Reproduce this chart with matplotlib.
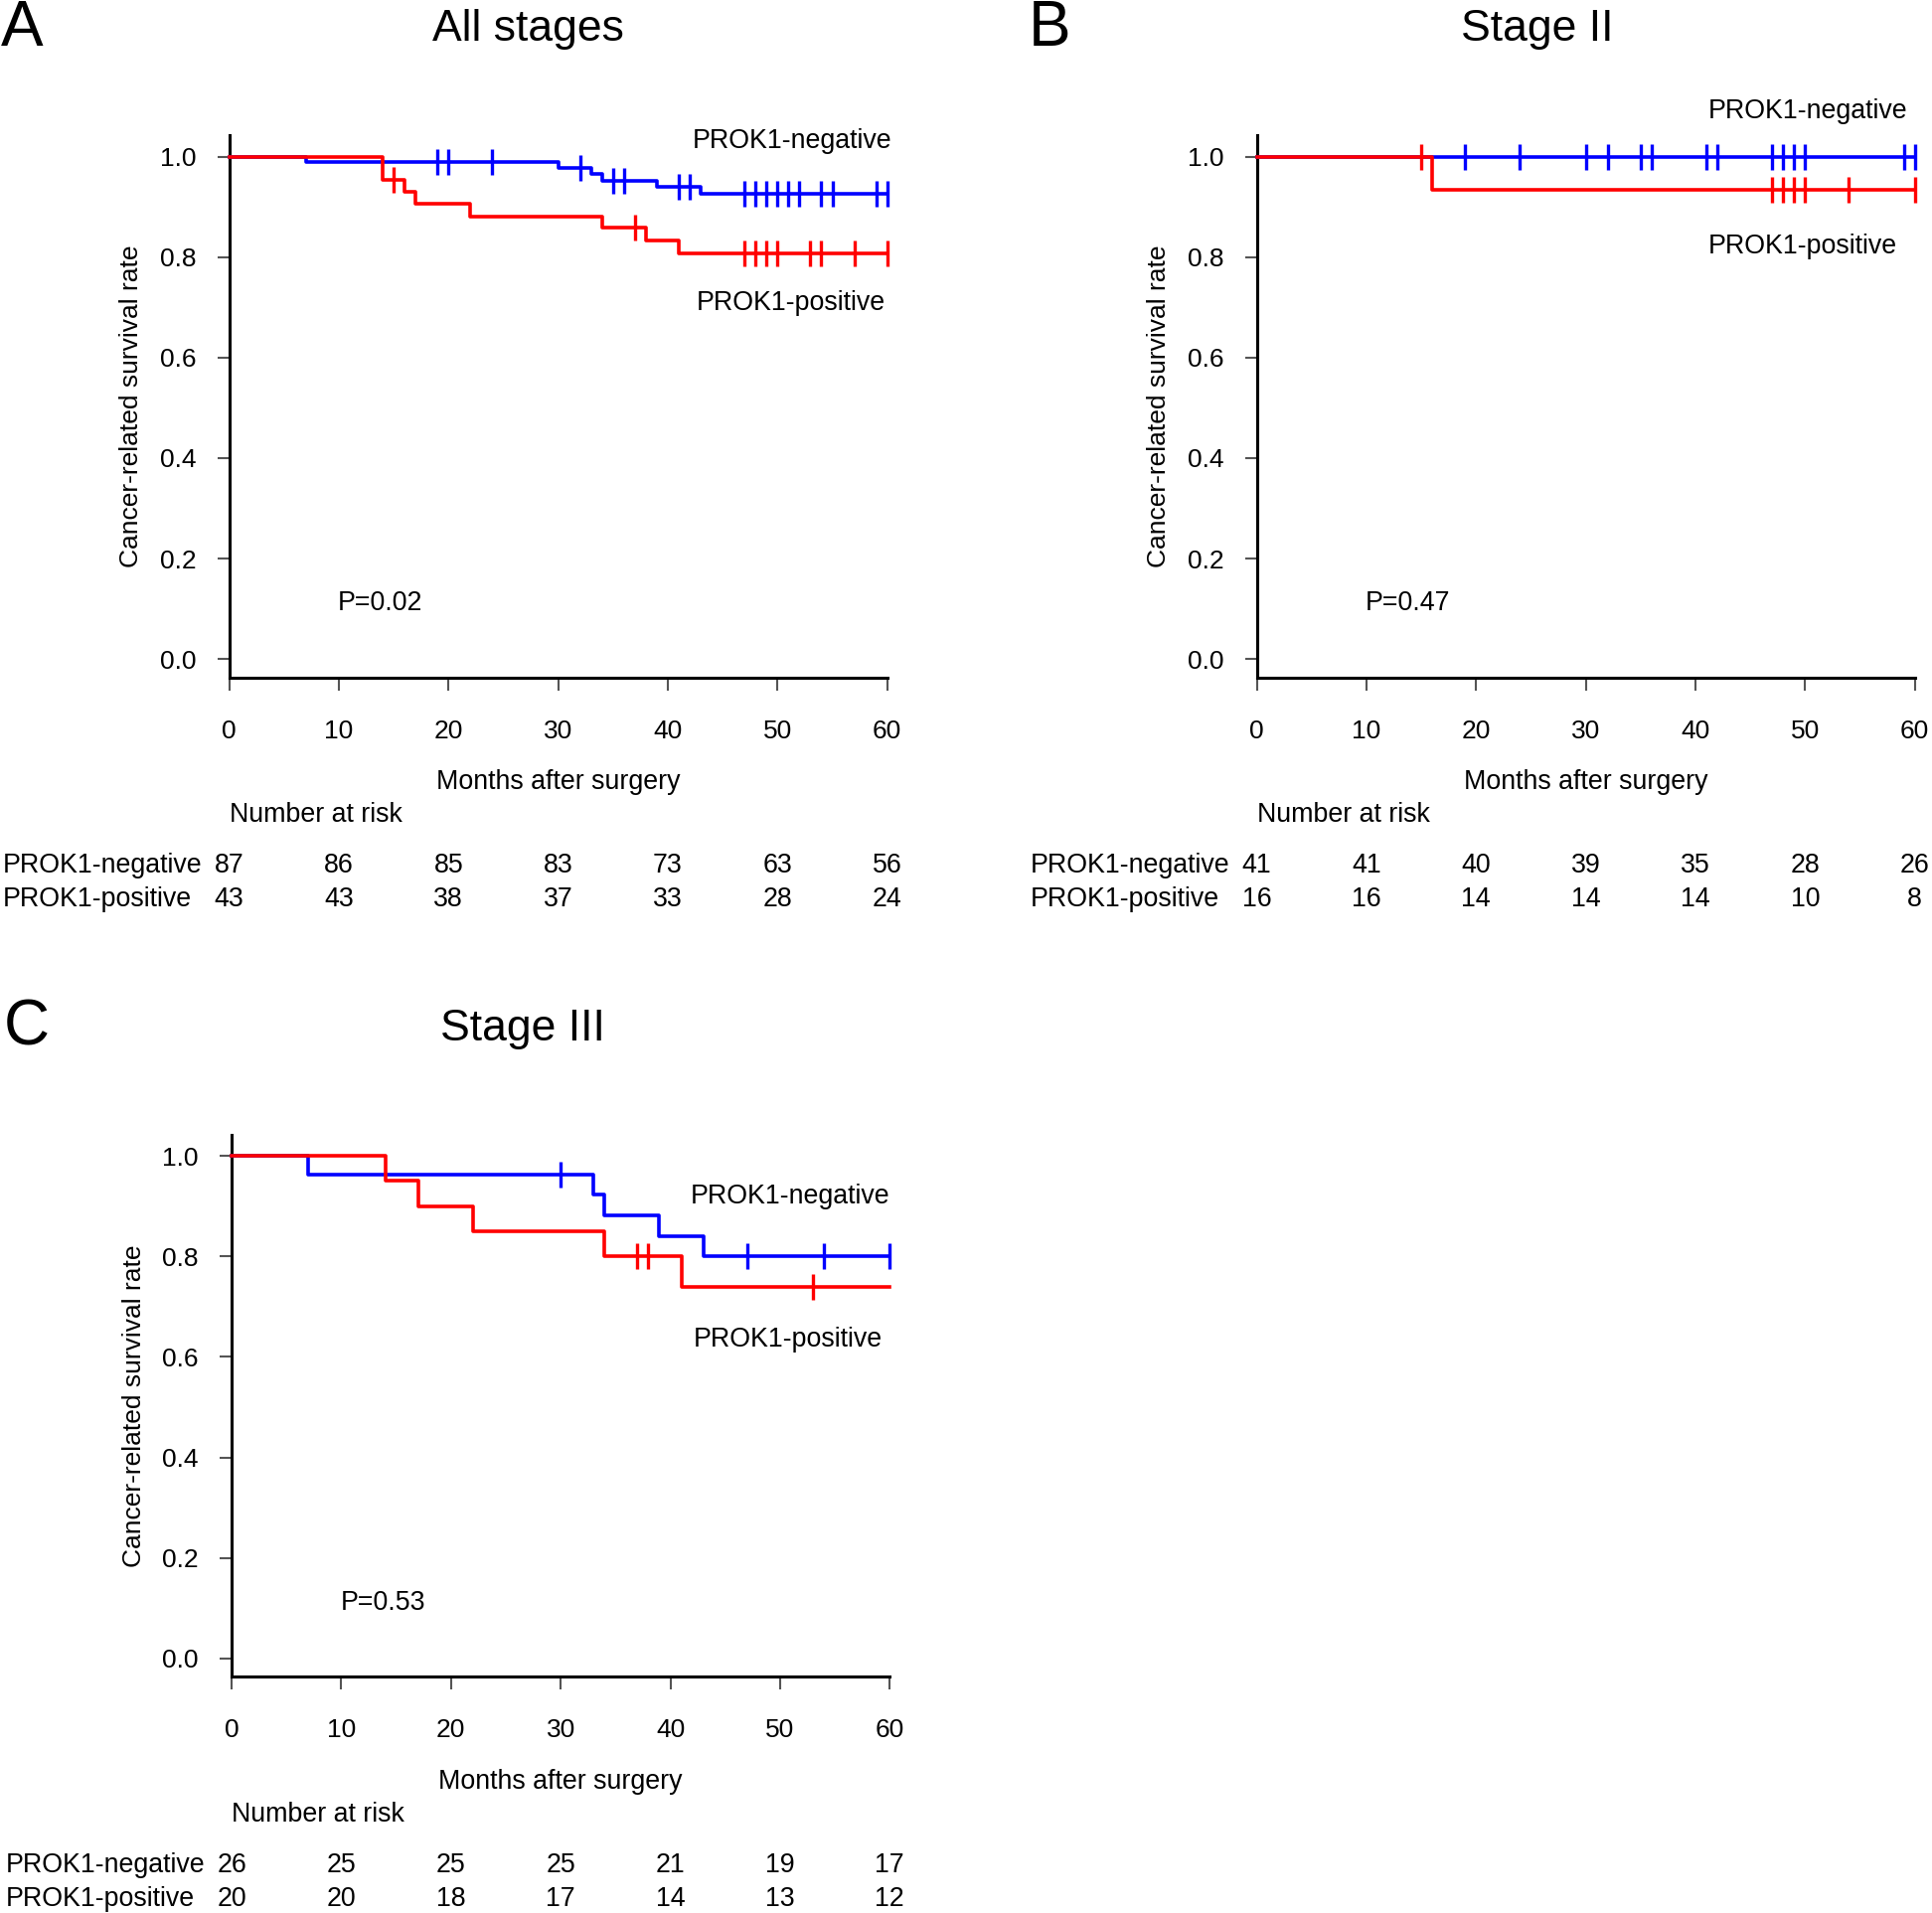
import numpy as np
import matplotlib
matplotlib.use("Agg")
import matplotlib.pyplot as plt

plt.rcParams['font.family'] = ['Liberation Sans', 'DejaVu Sans']

RED = '#ff0000'
BLUE = '#0000ff'

# ---- data ----
# Panel A: all stages
a_neg_t = [0, 7, 30, 33, 34, 39, 43, 60]
a_neg_s = [1.0, 0.989, 0.978, 0.966, 0.952, 0.939, 0.926, 0.926]
a_neg_cens = [19, 20, 24, 32, 35, 36, 41, 42, 47, 48, 49, 50, 51, 52, 54, 55, 59, 60]
a_pos_t = [0, 14, 16, 17, 22, 34, 38, 41, 60]
a_pos_s = [1.0, 0.953, 0.929, 0.906, 0.881, 0.858, 0.832, 0.808, 0.808]
a_pos_cens = [15, 37, 47, 48, 49, 50, 53, 54, 57, 60]
a_risk_neg = [87, 86, 85, 83, 73, 63, 56]
a_risk_pos = [43, 43, 38, 37, 33, 28, 24]

# Panel B: stage II
b_neg_t = [0, 60]
b_neg_s = [1.0, 1.0]
b_neg_cens = [19, 24, 30, 32, 35, 36, 41, 42, 47, 48, 49, 50, 59, 60]
b_pos_t = [0, 16, 60]
b_pos_s = [1.0, 0.933, 0.933]
b_pos_cens = [15, 47, 48, 49, 50, 54, 60]
b_risk_neg = [41, 41, 40, 39, 35, 28, 26]
b_risk_pos = [16, 16, 14, 14, 14, 10, 8]

# Panel C: stage III
c_neg_t = [0, 7, 33, 34, 39, 43, 60]
c_neg_s = [1.0, 0.962, 0.923, 0.882, 0.841, 0.80, 0.80]
c_neg_cens = [30, 47, 54, 60]
c_pos_t = [0, 14, 17, 22, 34, 41, 60]
c_pos_s = [1.0, 0.95, 0.90, 0.85, 0.80, 0.74, 0.74]
c_pos_cens = [37, 38, 53]
c_risk_neg = [26, 25, 25, 25, 21, 19, 17]
c_risk_pos = [20, 20, 18, 17, 14, 13, 12]

risk_ticks = [0, 10, 20, 30, 40, 50, 60]


def surv_at(times, surv, t):
    idx = np.searchsorted(times, t, side='right') - 1
    return np.asarray(surv)[idx]


def km_panel(ax, letter, title, title_x, neg, pos, pval, neg_lab, pos_lab,
             risk_neg, risk_pos):
    # negative first, positive on top (as in the original)
    for (t, s, cens), col in ((neg, BLUE), (pos, RED)):
        ax.step(t, s, where='post', color=col, lw=2.6, clip_on=False, zorder=3)
        ax.plot(cens, surv_at(t, s, cens), ls='none', marker='|', ms=19,
                mew=2.4, color=col, clip_on=False, zorder=4)

    ax.set_xlim(0, 60)
    ax.set_ylim(-0.037, 1.042)
    ax.set_xticks(risk_ticks)
    ax.set_yticks([0.0, 0.2, 0.4, 0.6, 0.8, 1.0])
    ax.set_yticklabels(['0.0', '0.2', '0.4', '0.6', '0.8', '1.0'])
    for side in ('top', 'right'):
        ax.spines[side].set_visible(False)
    for side in ('left', 'bottom'):
        ax.spines[side].set_linewidth(2.2)
    ax.tick_params(axis='both', labelsize=19, length=9, width=1.5, color='#555555')
    ax.tick_params(axis='x', pad=21)
    ax.tick_params(axis='y', pad=15)
    ax.set_ylabel('Cancer-related survival rate', fontsize=19)
    ax.yaxis.set_label_coords(-0.13, 0.5)

    dy = -0.007
    kw = dict(fontsize=19.3, clip_on=False)
    ax.text(neg_lab[0], neg_lab[1] + dy, 'PROK1-negative', ha='right', va='center', **kw)
    ax.text(pos_lab[0], pos_lab[1] + dy, 'PROK1-positive', ha='right', va='center', **kw)
    ax.text(9.9, 0.118 + dy, pval, ha='left', va='center', **kw)
    ax.text(title_x, 1.253, title, ha='center', va='center', fontsize=32)
    ax.text(-20.8, 1.255, letter, ha='left', va='center', fontsize=46)

    ax.text(30, -0.238 + dy, 'Months after surgery', ha='center', va='center', **kw)
    ax.text(0, -0.304 + dy, 'Number at risk', ha='left', va='center', **kw)
    ax.text(-20.6, -0.404 + dy, 'PROK1-negative', ha='left', va='center', **kw)
    ax.text(-20.6, -0.472 + dy, 'PROK1-positive', ha='left', va='center', **kw)
    for x, n1, n2 in zip(risk_ticks, risk_neg, risk_pos):
        ax.text(x, -0.404 + dy, str(n1), ha='center', va='center', **kw)
        ax.text(x, -0.472 + dy, str(n2), ha='center', va='center', **kw)


fig = plt.figure(figsize=(19.44, 19.25), dpi=100)
ax_a = fig.add_axes([0.1186, 0.6458, 0.3406, 0.2834])
ax_b = fig.add_axes([0.6505, 0.6458, 0.3406, 0.2834])
ax_c = fig.add_axes([0.1199, 0.1234, 0.3406, 0.2834])

km_panel(ax_a, 'A', 'All stages', 27.3,
         (a_neg_t, a_neg_s, a_neg_cens), (a_pos_t, a_pos_s, a_pos_cens),
         'P=0.02', (60.4, 1.037), (59.8, 0.716), a_risk_neg, a_risk_pos)
km_panel(ax_b, 'B', 'Stage II', 25.6,
         (b_neg_t, b_neg_s, b_neg_cens), (b_pos_t, b_pos_s, b_pos_cens),
         'P=0.47', (59.3, 1.098), (58.4, 0.828), b_risk_neg, b_risk_pos)
km_panel(ax_c, 'C', 'Stage III', 26.5,
         (c_neg_t, c_neg_s, c_neg_cens), (c_pos_t, c_pos_s, c_pos_cens),
         'P=0.53', (60.0, 0.926), (59.3, 0.642), c_risk_neg, c_risk_pos)

fig.savefig('out.png', dpi=100)
